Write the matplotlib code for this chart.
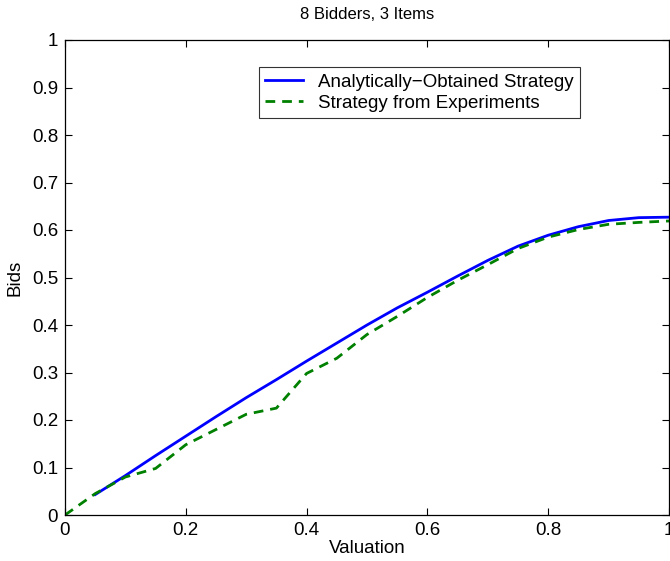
#!/usr/bin/env python3
"""Bid strategy: analytic equilibrium vs. strategy learned in experiments."""

import matplotlib
matplotlib.use("Agg")
import matplotlib.pyplot as plt

plt.rcParams["font.family"] = ["Liberation Sans", "DejaVu Sans"]

# analytically obtained strategy
analytic_x = [0.05, 0.10, 0.15, 0.20, 0.25, 0.30, 0.35, 0.40, 0.45, 0.50,
              0.55, 0.60, 0.65, 0.70, 0.75, 0.80, 0.85, 0.90, 0.95, 1.00]
analytic_bid = [0.043, 0.083, 0.125, 0.166, 0.207, 0.247, 0.285, 0.324, 0.362, 0.400,
                0.436, 0.469, 0.503, 0.536, 0.566, 0.589, 0.607, 0.620, 0.626, 0.627]

# strategy found by the experiments
exp_x = [0.00, 0.05, 0.10, 0.15, 0.20, 0.25, 0.30, 0.35, 0.40, 0.45, 0.50,
         0.55, 0.60, 0.65, 0.70, 0.75, 0.80, 0.85, 0.90, 0.95, 1.00]
exp_bid = [0.000, 0.045, 0.080, 0.098, 0.148, 0.180, 0.212, 0.225, 0.298, 0.330, 0.380,
           0.418, 0.458, 0.494, 0.527, 0.561, 0.585, 0.601, 0.612, 0.616, 0.619]

x_ticks = [0, 0.2, 0.4, 0.6, 0.8, 1]
x_tick_labels = ["0", "0.2", "0.4", "0.6", "0.8", "1"]
y_ticks = [0, 0.1, 0.2, 0.3, 0.4, 0.5, 0.6, 0.7, 0.8, 0.9, 1]
y_tick_labels = ["0", "0.1", "0.2", "0.3", "0.4", "0.5", "0.6", "0.7", "0.8", "0.9", "1"]

FS = 13.5

fig = plt.figure(figsize=(6.7, 5.61), dpi=100)
ax = fig.add_axes([65 / 670, 1 - 515 / 561, 604 / 670, 475 / 561])

ax.plot(analytic_x, analytic_bid, color="#0000ff", linewidth=2.0,
        label="Analytically\u2212Obtained Strategy")
ax.plot(exp_x, exp_bid, color="#008000", linewidth=2.0, linestyle=(0, (3.5, 2.5)),
        label="Strategy from Experiments")

ax.set_xlim(0, 1)
ax.set_ylim(0, 1)
ax.set_xticks(x_ticks)
ax.set_xticklabels(x_tick_labels)
ax.set_yticks(y_ticks)
ax.set_yticklabels(y_tick_labels)
ax.tick_params(direction="in", length=5, width=0.8, labelsize=FS,
               top=True, right=True, pad=5)
for spine in ax.spines.values():
    spine.set_linewidth(0.9)

ax.set_title("8 Bidders, 3 Items", fontsize=12, pad=15)
ax.set_xlabel("Valuation", fontsize=FS, labelpad=1)
ax.set_ylabel("Bids", fontsize=FS)
ax.yaxis.set_label_coords(-0.069, 0.5)

leg = ax.legend(loc="upper left", bbox_to_anchor=(0.321, 0.943), borderaxespad=0,
                fontsize=FS, frameon=True, fancybox=False, edgecolor="black",
                handlelength=2.0, handletextpad=0.8, borderpad=0.35,
                labelspacing=0.2)
leg.get_frame().set_linewidth(0.8)

fig.savefig("out.png", dpi=100)
